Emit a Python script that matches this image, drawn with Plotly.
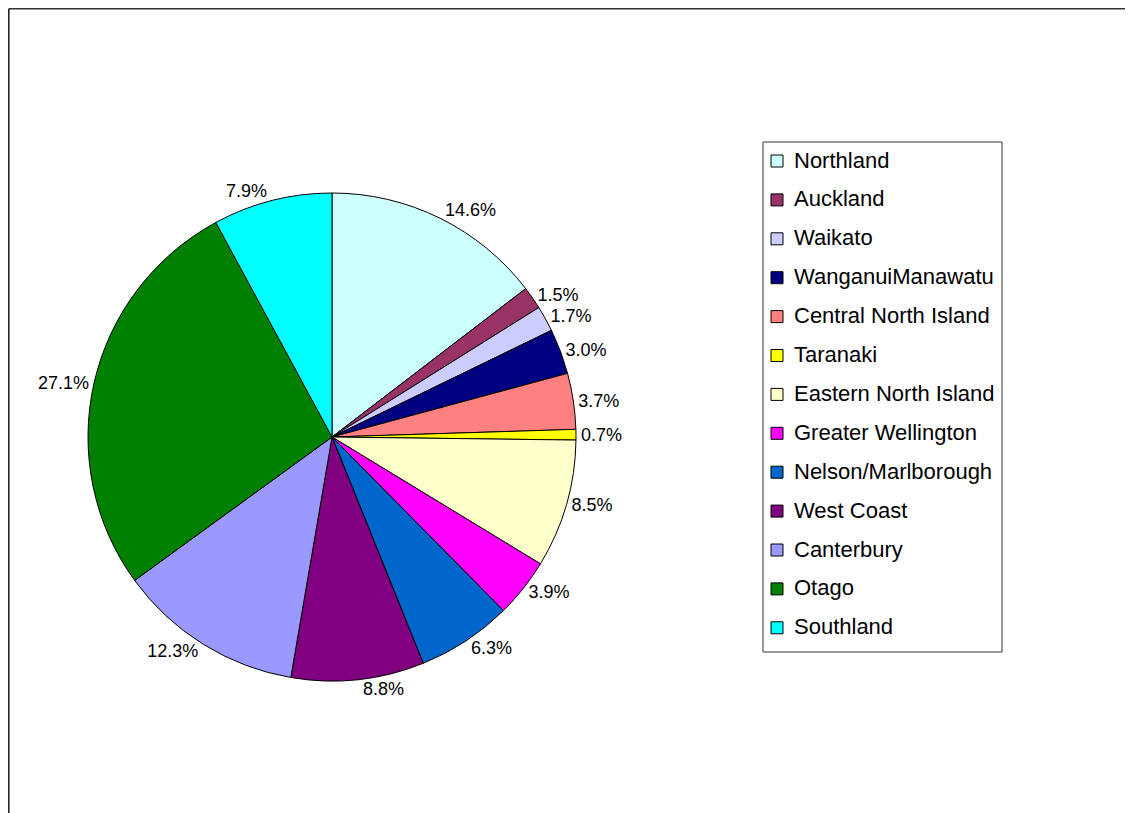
import plotly.graph_objects as go

regions = ["Northland", "Auckland", "Waikato", "WanganuiManawatu", "Central North Island",
           "Taranaki", "Eastern North Island", "Greater Wellington", "Nelson/Marlborough",
           "West Coast", "Canterbury", "Otago", "Southland"]
shares = [14.6, 1.5, 1.7, 3.0, 3.7, 0.7, 8.5, 3.9, 6.3, 8.8, 12.3, 27.1, 7.9]
colors = ["#CCFFFF", "#993366", "#CCCCFF", "#000080", "#FF8080", "#FFFF00", "#FFFFCC",
          "#FF00FF", "#0066CC", "#800080", "#9999FF", "#008000", "#00FFFF"]

W, H = 1133, 813
OFF = 8  # page offset of the plot div
FONT = "Liberation Sans, Arial, sans-serif"

def px(x):
    return (x - OFF) / W

def py(y):
    return 1 - (y - OFF) / H

cx, cy, r = 332, 437, 244

fig = go.Figure(go.Pie(
    labels=regions,
    values=shares,
    sort=False,
    direction="clockwise",
    rotation=0,
    marker=dict(colors=colors, line=dict(color="black", width=1)),
    textposition="outside",
    texttemplate="%{value:.1f}%",
    textfont=dict(family=FONT, size=18, color="black"),
    showlegend=False,
    hoverinfo="label+value",
    domain=dict(x=[px(cx - r), px(cx + r)], y=[py(cy + r), py(cy - r)]),
))

shapes = [
    dict(type="line", xref="paper", yref="paper", x0=0.8 / W, x1=1.0, y0=1 - 0.8 / H, y1=1 - 0.8 / H,
         line=dict(color="#333333", width=1.6)),
    dict(type="line", xref="paper", yref="paper", x0=0.8 / W, x1=0.8 / W, y0=1 - 0.8 / H, y1=0,
         line=dict(color="#222222", width=1.6)),
    dict(type="rect", xref="paper", yref="paper", x0=px(763), x1=px(1002), y0=py(652), y1=py(142),
         line=dict(color="#333333", width=1), fillcolor="white"),
]
annotations = []
first_y, step = 160, 38.9
for i, (lab, col) in enumerate(zip(regions, colors)):
    yc = first_y + i * step
    shapes.append(dict(type="rect", xref="paper", yref="paper",
                       x0=px(771), x1=px(783), y0=py(yc + 7), y1=py(yc - 5),
                       line=dict(color="black", width=1), fillcolor=col))
    annotations.append(dict(xref="paper", yref="paper", x=px(792), y=py(yc), text=lab,
                            showarrow=False, xanchor="left", yanchor="middle",
                            font=dict(family=FONT, size=22, color="black")))

fig.update_layout(
    width=W, height=H,
    margin=dict(l=0, r=0, t=0, b=0),
    paper_bgcolor="white",
    plot_bgcolor="white",
    shapes=shapes,
    annotations=annotations,
    font=dict(family=FONT),
)

fig.write_html("out.html")
